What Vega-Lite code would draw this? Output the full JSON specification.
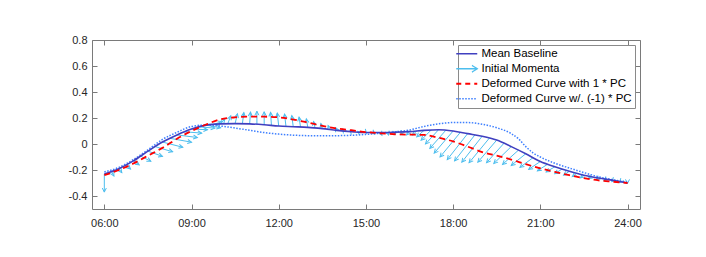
{
  "$schema": "https://vega.github.io/schema/vega-lite/v6.json",
  "width": 548,
  "height": 169,
  "autosize": {"type": "none"},
  "padding": {"left": 92, "top": 40, "right": 66, "bottom": 48},
  "background": "white",
  "config": {
    "view": {"stroke": "#7a7a7a", "strokeWidth": 1},
    "font": "Liberation Sans",
    "axis": {"labelFont": "Liberation Sans", "labelFontSize": 11, "labelColor": "#262626", "tickColor": "#7a7a7a", "domain": false, "grid": false, "title": null, "tickSize": -5}
  },
  "datasets": {
    "curves": [
      {"series": "Mean Baseline", "h": 6.0, "v": -0.23}, {"series": "Mean Baseline", "h": 6.5, "v": -0.19}, {"series": "Mean Baseline", "h": 7.0, "v": -0.13}, {"series": "Mean Baseline", "h": 7.5, "v": -0.055}, {"series": "Mean Baseline", "h": 8.0, "v": 0.015}, {"series": "Mean Baseline", "h": 8.5, "v": 0.07}, {"series": "Mean Baseline", "h": 9.0, "v": 0.115}, {"series": "Mean Baseline", "h": 9.5, "v": 0.145}, {"series": "Mean Baseline", "h": 10.0, "v": 0.155}, {"series": "Mean Baseline", "h": 10.5, "v": 0.157}, {"series": "Mean Baseline", "h": 11.0, "v": 0.155}, {"series": "Mean Baseline", "h": 11.5, "v": 0.148}, {"series": "Mean Baseline", "h": 12.0, "v": 0.138}, {"series": "Mean Baseline", "h": 12.5, "v": 0.133}, {"series": "Mean Baseline", "h": 13.0, "v": 0.128}, {"series": "Mean Baseline", "h": 13.5, "v": 0.118}, {"series": "Mean Baseline", "h": 14.0, "v": 0.105}, {"series": "Mean Baseline", "h": 14.5, "v": 0.095}, {"series": "Mean Baseline", "h": 15.0, "v": 0.088}, {"series": "Mean Baseline", "h": 15.5, "v": 0.088}, {"series": "Mean Baseline", "h": 16.0, "v": 0.09}, {"series": "Mean Baseline", "h": 16.5, "v": 0.095}, {"series": "Mean Baseline", "h": 17.0, "v": 0.105}, {"series": "Mean Baseline", "h": 17.5, "v": 0.11}, {"series": "Mean Baseline", "h": 18.0, "v": 0.1}, {"series": "Mean Baseline", "h": 18.5, "v": 0.08}, {"series": "Mean Baseline", "h": 19.0, "v": 0.06}, {"series": "Mean Baseline", "h": 19.5, "v": 0.03}, {"series": "Mean Baseline", "h": 20.0, "v": -0.02}, {"series": "Mean Baseline", "h": 20.5, "v": -0.075}, {"series": "Mean Baseline", "h": 21.0, "v": -0.135}, {"series": "Mean Baseline", "h": 21.5, "v": -0.175}, {"series": "Mean Baseline", "h": 22.0, "v": -0.21}, {"series": "Mean Baseline", "h": 22.5, "v": -0.24}, {"series": "Mean Baseline", "h": 23.0, "v": -0.262}, {"series": "Mean Baseline", "h": 23.5, "v": -0.28}, {"series": "Mean Baseline", "h": 24.0, "v": -0.3},
      {"series": "Deformed Curve with 1 * PC", "h": 6.0, "v": -0.24}, {"series": "Deformed Curve with 1 * PC", "h": 6.5, "v": -0.2}, {"series": "Deformed Curve with 1 * PC", "h": 7.0, "v": -0.15}, {"series": "Deformed Curve with 1 * PC", "h": 7.5, "v": -0.09}, {"series": "Deformed Curve with 1 * PC", "h": 8.0, "v": -0.03}, {"series": "Deformed Curve with 1 * PC", "h": 8.5, "v": 0.04}, {"series": "Deformed Curve with 1 * PC", "h": 9.0, "v": 0.1}, {"series": "Deformed Curve with 1 * PC", "h": 9.5, "v": 0.15}, {"series": "Deformed Curve with 1 * PC", "h": 10.0, "v": 0.19}, {"series": "Deformed Curve with 1 * PC", "h": 10.5, "v": 0.205}, {"series": "Deformed Curve with 1 * PC", "h": 11.0, "v": 0.21}, {"series": "Deformed Curve with 1 * PC", "h": 11.5, "v": 0.21}, {"series": "Deformed Curve with 1 * PC", "h": 12.0, "v": 0.205}, {"series": "Deformed Curve with 1 * PC", "h": 12.5, "v": 0.188}, {"series": "Deformed Curve with 1 * PC", "h": 13.0, "v": 0.165}, {"series": "Deformed Curve with 1 * PC", "h": 13.5, "v": 0.14}, {"series": "Deformed Curve with 1 * PC", "h": 14.0, "v": 0.12}, {"series": "Deformed Curve with 1 * PC", "h": 14.5, "v": 0.106}, {"series": "Deformed Curve with 1 * PC", "h": 15.0, "v": 0.092}, {"series": "Deformed Curve with 1 * PC", "h": 15.5, "v": 0.082}, {"series": "Deformed Curve with 1 * PC", "h": 16.0, "v": 0.075}, {"series": "Deformed Curve with 1 * PC", "h": 16.5, "v": 0.072}, {"series": "Deformed Curve with 1 * PC", "h": 17.0, "v": 0.07}, {"series": "Deformed Curve with 1 * PC", "h": 17.5, "v": 0.048}, {"series": "Deformed Curve with 1 * PC", "h": 18.0, "v": 0.02}, {"series": "Deformed Curve with 1 * PC", "h": 18.5, "v": -0.02}, {"series": "Deformed Curve with 1 * PC", "h": 19.0, "v": -0.062}, {"series": "Deformed Curve with 1 * PC", "h": 19.5, "v": -0.09}, {"series": "Deformed Curve with 1 * PC", "h": 20.0, "v": -0.12}, {"series": "Deformed Curve with 1 * PC", "h": 20.5, "v": -0.155}, {"series": "Deformed Curve with 1 * PC", "h": 21.0, "v": -0.187}, {"series": "Deformed Curve with 1 * PC", "h": 21.5, "v": -0.215}, {"series": "Deformed Curve with 1 * PC", "h": 22.0, "v": -0.24}, {"series": "Deformed Curve with 1 * PC", "h": 22.5, "v": -0.262}, {"series": "Deformed Curve with 1 * PC", "h": 23.0, "v": -0.28}, {"series": "Deformed Curve with 1 * PC", "h": 23.5, "v": -0.29}, {"series": "Deformed Curve with 1 * PC", "h": 24.0, "v": -0.3},
      {"series": "Deformed Curve w/. (-1) * PC", "h": 6.0, "v": -0.215}, {"series": "Deformed Curve w/. (-1) * PC", "h": 6.5, "v": -0.18}, {"series": "Deformed Curve w/. (-1) * PC", "h": 7.0, "v": -0.12}, {"series": "Deformed Curve w/. (-1) * PC", "h": 7.5, "v": -0.045}, {"series": "Deformed Curve w/. (-1) * PC", "h": 8.0, "v": 0.035}, {"series": "Deformed Curve w/. (-1) * PC", "h": 8.5, "v": 0.09}, {"series": "Deformed Curve w/. (-1) * PC", "h": 9.0, "v": 0.135}, {"series": "Deformed Curve w/. (-1) * PC", "h": 9.5, "v": 0.146}, {"series": "Deformed Curve w/. (-1) * PC", "h": 10.0, "v": 0.138}, {"series": "Deformed Curve w/. (-1) * PC", "h": 10.5, "v": 0.123}, {"series": "Deformed Curve w/. (-1) * PC", "h": 11.0, "v": 0.105}, {"series": "Deformed Curve w/. (-1) * PC", "h": 11.5, "v": 0.088}, {"series": "Deformed Curve w/. (-1) * PC", "h": 12.0, "v": 0.076}, {"series": "Deformed Curve w/. (-1) * PC", "h": 12.5, "v": 0.068}, {"series": "Deformed Curve w/. (-1) * PC", "h": 13.0, "v": 0.064}, {"series": "Deformed Curve w/. (-1) * PC", "h": 13.5, "v": 0.063}, {"series": "Deformed Curve w/. (-1) * PC", "h": 14.0, "v": 0.064}, {"series": "Deformed Curve w/. (-1) * PC", "h": 14.5, "v": 0.067}, {"series": "Deformed Curve w/. (-1) * PC", "h": 15.0, "v": 0.074}, {"series": "Deformed Curve w/. (-1) * PC", "h": 15.5, "v": 0.083}, {"series": "Deformed Curve w/. (-1) * PC", "h": 16.0, "v": 0.093}, {"series": "Deformed Curve w/. (-1) * PC", "h": 16.5, "v": 0.108}, {"series": "Deformed Curve w/. (-1) * PC", "h": 17.0, "v": 0.135}, {"series": "Deformed Curve w/. (-1) * PC", "h": 17.5, "v": 0.155}, {"series": "Deformed Curve w/. (-1) * PC", "h": 18.0, "v": 0.165}, {"series": "Deformed Curve w/. (-1) * PC", "h": 18.5, "v": 0.165}, {"series": "Deformed Curve w/. (-1) * PC", "h": 19.0, "v": 0.152}, {"series": "Deformed Curve w/. (-1) * PC", "h": 19.5, "v": 0.125}, {"series": "Deformed Curve w/. (-1) * PC", "h": 20.0, "v": 0.08}, {"series": "Deformed Curve w/. (-1) * PC", "h": 20.25, "v": 0.04}, {"series": "Deformed Curve w/. (-1) * PC", "h": 20.5, "v": -0.02}, {"series": "Deformed Curve w/. (-1) * PC", "h": 20.75, "v": -0.068}, {"series": "Deformed Curve w/. (-1) * PC", "h": 21.0, "v": -0.1}, {"series": "Deformed Curve w/. (-1) * PC", "h": 21.5, "v": -0.148}, {"series": "Deformed Curve w/. (-1) * PC", "h": 22.0, "v": -0.185}, {"series": "Deformed Curve w/. (-1) * PC", "h": 22.5, "v": -0.22}, {"series": "Deformed Curve w/. (-1) * PC", "h": 23.0, "v": -0.252}, {"series": "Deformed Curve w/. (-1) * PC", "h": 23.5, "v": -0.275}, {"series": "Deformed Curve w/. (-1) * PC", "h": 24.0, "v": -0.295}
    ],
    "momenta": [
      {"h": 6.0, "v": -0.23, "h2": 6.0, "v2": -0.37}, {"h": 6.25, "v": -0.212, "h2": 6.33, "v2": -0.247}, {"h": 6.5, "v": -0.19, "h2": 6.6, "v2": -0.22}, {"h": 6.75, "v": -0.162, "h2": 6.9, "v2": -0.192}, {"h": 7.0, "v": -0.13, "h2": 7.2, "v2": -0.16}, {"h": 7.25, "v": -0.093, "h2": 7.6, "v2": -0.133}, {"h": 7.5, "v": -0.055, "h2": 8.0, "v2": -0.095}, {"h": 7.75, "v": -0.02, "h2": 8.35, "v2": -0.06}, {"h": 8.0, "v": 0.015, "h2": 8.7, "v2": -0.025}, {"h": 8.25, "v": 0.044, "h2": 9.0, "v2": 0.014}, {"h": 8.5, "v": 0.07, "h2": 9.2, "v2": 0.05}, {"h": 8.75, "v": 0.094, "h2": 9.35, "v2": 0.084}, {"h": 9.0, "v": 0.115, "h2": 9.55, "v2": 0.11}, {"h": 9.25, "v": 0.132, "h2": 9.8, "v2": 0.122}, {"h": 9.5, "v": 0.145, "h2": 10.0, "v2": 0.125}, {"h": 9.75, "v": 0.151, "h2": 10.05, "v2": 0.171}, {"h": 10.0, "v": 0.155, "h2": 10.15, "v2": 0.195}, {"h": 10.25, "v": 0.157, "h2": 10.35, "v2": 0.217}, {"h": 10.5, "v": 0.157, "h2": 10.58, "v2": 0.232}, {"h": 10.75, "v": 0.156, "h2": 10.8, "v2": 0.241}, {"h": 11.0, "v": 0.155, "h2": 11.03, "v2": 0.245}, {"h": 11.25, "v": 0.152, "h2": 11.25, "v2": 0.252}, {"h": 11.5, "v": 0.148, "h2": 11.5, "v2": 0.248}, {"h": 11.75, "v": 0.143, "h2": 11.72, "v2": 0.243}, {"h": 12.0, "v": 0.138, "h2": 11.95, "v2": 0.238}, {"h": 12.25, "v": 0.135, "h2": 12.2, "v2": 0.23}, {"h": 12.5, "v": 0.133, "h2": 12.45, "v2": 0.218}, {"h": 12.75, "v": 0.131, "h2": 12.7, "v2": 0.206}, {"h": 13.0, "v": 0.128, "h2": 12.95, "v2": 0.193}, {"h": 13.25, "v": 0.123, "h2": 13.2, "v2": 0.173}, {"h": 13.5, "v": 0.118, "h2": 13.45, "v2": 0.158}, {"h": 13.75, "v": 0.111, "h2": 13.7, "v2": 0.141}, {"h": 14.0, "v": 0.105, "h2": 13.95, "v2": 0.125}, {"h": 14.25, "v": 0.1, "h2": 14.2, "v2": 0.115}, {"h": 14.5, "v": 0.095, "h2": 14.46, "v2": 0.105}, {"h": 14.75, "v": 0.091, "h2": 14.72, "v2": 0.096}, {"h": 15.0, "v": 0.088, "h2": 15.02, "v2": 0.083}, {"h": 15.25, "v": 0.087, "h2": 15.3, "v2": 0.077}, {"h": 15.5, "v": 0.088, "h2": 15.55, "v2": 0.068}, {"h": 15.75, "v": 0.089, "h2": 15.78, "v2": 0.069}, {"h": 16.0, "v": 0.09, "h2": 16.0, "v2": 0.07}, {"h": 16.25, "v": 0.092, "h2": 16.2, "v2": 0.072}, {"h": 16.5, "v": 0.095, "h2": 16.4, "v2": 0.07}, {"h": 16.75, "v": 0.1, "h2": 16.6, "v2": 0.07}, {"h": 17.0, "v": 0.105, "h2": 16.75, "v2": 0.055}, {"h": 17.25, "v": 0.109, "h2": 16.9, "v2": 0.029}, {"h": 17.5, "v": 0.11, "h2": 17.05, "v2": 0.0}, {"h": 17.75, "v": 0.106, "h2": 17.2, "v2": -0.034}, {"h": 18.0, "v": 0.1, "h2": 17.35, "v2": -0.07}, {"h": 18.25, "v": 0.09, "h2": 17.55, "v2": -0.1}, {"h": 18.5, "v": 0.08, "h2": 17.8, "v2": -0.12}, {"h": 18.75, "v": 0.07, "h2": 18.05, "v2": -0.13}, {"h": 19.0, "v": 0.06, "h2": 18.3, "v2": -0.14}, {"h": 19.25, "v": 0.046, "h2": 18.55, "v2": -0.144}, {"h": 19.5, "v": 0.03, "h2": 18.85, "v2": -0.14}, {"h": 19.75, "v": 0.006, "h2": 19.15, "v2": -0.144}, {"h": 20.0, "v": -0.02, "h2": 19.4, "v2": -0.15}, {"h": 20.25, "v": -0.047, "h2": 19.7, "v2": -0.157}, {"h": 20.5, "v": -0.075, "h2": 20.0, "v2": -0.165}, {"h": 20.75, "v": -0.105, "h2": 20.3, "v2": -0.18}, {"h": 21.0, "v": -0.135, "h2": 20.6, "v2": -0.195}, {"h": 21.25, "v": -0.156, "h2": 20.9, "v2": -0.206}, {"h": 21.5, "v": -0.175, "h2": 21.2, "v2": -0.215}, {"h": 21.75, "v": -0.193, "h2": 21.5, "v2": -0.228}, {"h": 22.0, "v": -0.21, "h2": 21.8, "v2": -0.24}, {"h": 22.25, "v": -0.226, "h2": 22.1, "v2": -0.251}, {"h": 22.5, "v": -0.24, "h2": 22.38, "v2": -0.26}, {"h": 22.75, "v": -0.251, "h2": 22.65, "v2": -0.266}, {"h": 23.0, "v": -0.262, "h2": 22.92, "v2": -0.274}, {"h": 23.25, "v": -0.271, "h2": 23.19, "v2": -0.281}, {"h": 23.5, "v": -0.28, "h2": 23.46, "v2": -0.288}, {"h": 23.75, "v": -0.29, "h2": 23.73, "v2": -0.295}, {"h": 24.0, "v": -0.3, "h2": 24.0, "v2": -0.303}
    ]
  },
  "resolve": {"axis": {"x": "independent", "y": "independent"}},
  "layer": [
    {
      "data": {"name": "momenta"},
      "mark": {"type": "rule", "stroke": "#4DBEEE", "strokeWidth": 1},
      "encoding": {
        "x": {"field": "h", "type": "quantitative", "scale": {"domain": [5.576, 24.43], "nice": false, "zero": false},
          "axis": {"orient": "bottom", "values": [6, 9, 12, 15, 18, 21, 24], "labelExpr": "(datum.value < 10 ? '0' : '') + datum.value + ':00'", "labelPadding": 13}},
        "y": {"field": "v", "type": "quantitative", "scale": {"domain": [-0.5, 0.8], "nice": false, "zero": false},
          "axis": {"orient": "left", "values": [-0.4, -0.2, 0, 0.2, 0.4, 0.6, 0.8], "labelExpr": "datum.value == 0 ? '0' : (datum.value < 0 ? '-' : '') + format(abs(datum.value), '.1f')", "labelPadding": 10}},
        "x2": {"field": "h2"},
        "y2": {"field": "v2"}
      }
    },
    {
      "data": {"name": "momenta"},
      "transform": [{"calculate": "(atan2((datum.h2 - datum.h) * 29.06, (datum.v2 - datum.v) * 130) * 180 / PI + 360) % 360", "as": "ang"}],
      "mark": {"type": "point", "shape": "M-0.45,0.9L0,0L0.45,0.9", "filled": false, "stroke": "#4DBEEE", "strokeWidth": 1, "size": 80, "opacity": 1},
      "encoding": {
        "x": {"field": "h2", "type": "quantitative", "axis": null},
        "y": {"field": "v2", "type": "quantitative", "axis": null},
        "angle": {"field": "ang", "type": "quantitative", "scale": null}
      }
    },
    {
      "data": {"name": "curves"},
      "transform": [{"filter": "datum.series === 'Deformed Curve w/. (-1) * PC'"}],
      "mark": {"type": "line", "strokeWidth": 1.5, "strokeDash": [1.5, 1.5], "interpolate": "monotone"},
      "encoding": {
        "x": {"field": "h", "type": "quantitative", "axis": {"orient": "top", "values": [6, 9, 12, 15, 18, 21, 24], "labels": false}},
        "y": {"field": "v", "type": "quantitative", "axis": {"orient": "right", "values": [-0.4, -0.2, 0, 0.2, 0.4, 0.6, 0.8], "labels": false}},
        "color": {"field": "series", "type": "nominal",
          "scale": {"domain": ["Mean Baseline", "Initial Momenta", "Deformed Curve with 1 * PC", "Deformed Curve w/. (-1) * PC"], "range": ["#4040c0", "#4DBEEE", "#ff0000", "#3d7fff"]},
          "legend": {
            "title": null, "orient": "top-right", "offset": 5,
            "labelFont": "Liberation Sans", "labelFontSize": 11.5, "labelColor": "#000000", "labelOffset": 9,
            "symbolType": "stroke", "symbolSize": 441, "rowPadding": 2, "padding": 3,
            "fillColor": "white", "strokeColor": "#8a8a8a",
            "encode": {"symbols": {"update": {
              "shape": {"signal": "datum.value === 'Initial Momenta' ? 'M-1,0L1,0M0.5,-0.32L1,0L0.5,0.32' : 'stroke'"},
              "strokeDash": {"signal": "datum.value === 'Deformed Curve with 1 * PC' ? [5, 4] : (datum.value === 'Deformed Curve w/. (-1) * PC' ? [1.5, 1.5] : [1, 0])"},
              "strokeWidth": {"signal": "datum.value === 'Deformed Curve with 1 * PC' ? 1.8 : (datum.value === 'Mean Baseline' ? 1.6 : 1.3)"},
              "fill": {"value": "transparent"}
            }}}
          }
        }
      }
    },
    {
      "data": {"name": "curves"},
      "transform": [{"filter": "datum.series === 'Mean Baseline'"}],
      "mark": {"type": "line", "strokeWidth": 1.6, "interpolate": "monotone"},
      "encoding": {
        "x": {"field": "h", "type": "quantitative", "axis": null},
        "y": {"field": "v", "type": "quantitative", "axis": null},
        "color": {"field": "series", "type": "nominal"}
      }
    },
    {
      "data": {"name": "curves"},
      "transform": [{"filter": "datum.series === 'Deformed Curve with 1 * PC'"}],
      "mark": {"type": "line", "strokeWidth": 1.8, "strokeDash": [6, 4], "interpolate": "monotone"},
      "encoding": {
        "x": {"field": "h", "type": "quantitative", "axis": null},
        "y": {"field": "v", "type": "quantitative", "axis": null},
        "color": {"field": "series", "type": "nominal"}
      }
    }
  ]
}
